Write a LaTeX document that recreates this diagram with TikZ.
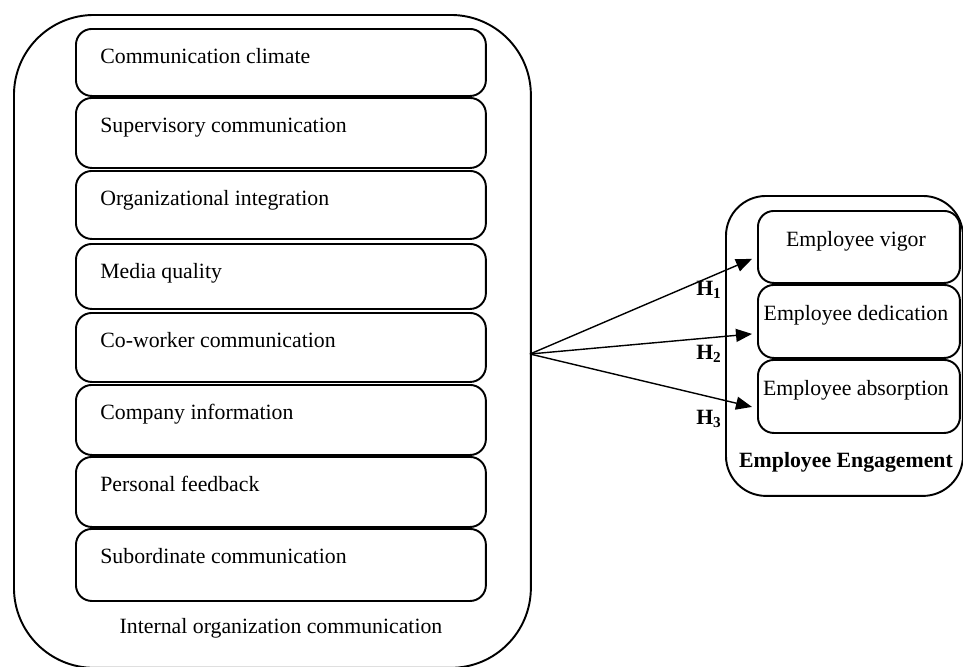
\documentclass[tikz,border=0pt]{standalone}
\usepackage{fontspec}
\setmainfont{Liberation Serif}
\usetikzlibrary{arrows.meta,calc,positioning}

\begin{document}
\begin{tikzpicture}[x=0.02cm, y=-0.02cm,
    every node/.style={font=\fontsize{12.4}{14}\selectfont},
    groupbox/.style={draw, line width=1.1pt, anchor=north west, inner sep=0pt},
    itembox/.style={draw, line width=1.1pt, rounded corners=9pt, anchor=north west, inner sep=0pt},
    itemtext/.style={anchor=base west, inner sep=0pt},
    dimtext/.style={anchor=base, inner sep=0pt},
    hyparrow/.style={-{Triangle[length=3.2mm, width=2.6mm]}, line width=0.8pt}]
  \useasboundingbox (0,0) rectangle (963,666);

  \node[groupbox, rounded corners=1.6cm, minimum width=10.34cm, minimum height=13.06cm] (ioc) at (13,14) {};
  \foreach \i/\t/\b/\txt in {1/28/95/Communication climate, 2/97/167/Supervisory communication,
      3/170/238/Organizational integration, 4/243/308/Media quality, 5/312/381/Co-worker communication,
      6/384/454/Company information, 7/456/526/Personal feedback, 8/528/600/Subordinate communication} {
    \node[itembox, minimum width=8.2cm, minimum height={(\b-\t)*0.02cm}] (c\i) at (75,\t) {};
    \node[itemtext] (t\i) at ($(c\i.north west)+(25,35)$) {\txt};
  }
  \node[dimtext] (ioclbl) at (281,633) {Internal organization communication};

  \node[groupbox, rounded corners=0.8cm, minimum width=4.74cm, minimum height=6cm] (eng) at (725,195) {};
  \foreach \i/\t/\b/\txt in {1/210/282/Employee vigor, 2/284/357/Employee dedication, 3/359/432/Employee absorption} {
    \node[itembox, minimum width=4.04cm, minimum height={(\b-\t)*0.02cm}] (e\i) at (757,\t) {};
    \node[dimtext] (s\i) at ($(e\i.north)+(-3,36)$) {\txt};
  }
  \node[dimtext] (englbl) at (846,467) {\textbf{Employee Engagement}};

  \coordinate (src) at (530,354);
  \foreach \i/\d/\ly in {1/25/290, 2/25/354, 3/27/419} {
    \draw[hyparrow] (src) -- ([shift={(-5,-\d)}]e\i.south west);
    \node (h\i) at (709,\ly) {\textbf{H\textsubscript{\i}}};
  }
\end{tikzpicture}
\end{document}
